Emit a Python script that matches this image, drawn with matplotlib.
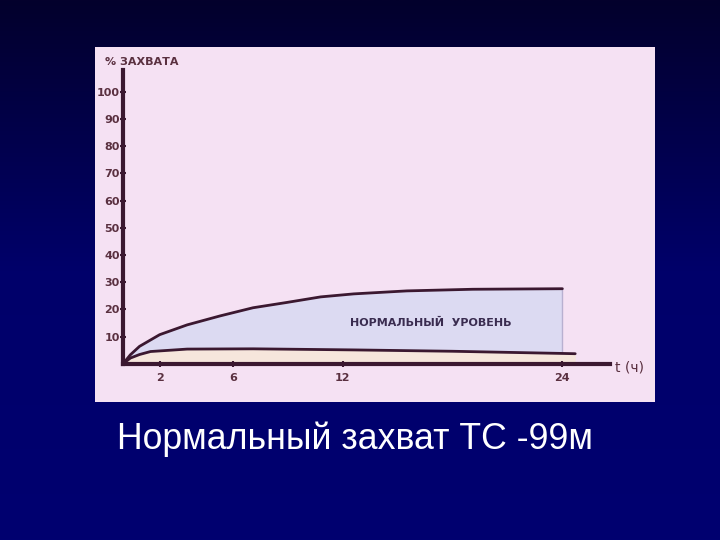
import matplotlib.pyplot as plt
import numpy as np
from matplotlib.colors import LinearSegmentedColormap

# hours and % uptake
hours = [0, 0.4, 0.9, 2.0, 3.5, 5.3, 7.1, 8.9, 10.8, 12.6, 15.5, 19.1, 24]
upper = [0, 3.3, 6.4, 10.7, 14.3, 17.6, 20.6, 22.5, 24.6, 25.7, 26.8, 27.4, 27.6]
lower_hours = [0, 0.4, 0.9, 1.5, 3.5, 7.1, 12.6, 18.0, 24, 24.7]
lower = [0, 2.1, 3.4, 4.5, 5.4, 5.5, 5.1, 4.6, 3.8, 3.7]

y_ticks = [10, 20, 30, 40, 50, 60, 70, 80, 90, 100]
x_ticks = [2, 6, 12, 24]

ink = "#3b1830"
label_ink = "#5a3040"

fig = plt.figure(figsize=(7.2, 5.4), dpi=100)

# slide background: vertical navy gradient
bg = fig.add_axes([0, 0, 1, 1])
grad = np.linspace(0, 1, 256).reshape(-1, 1)
cmap = LinearSegmentedColormap.from_list("slide", ["#03002c", "#00006a", "#000070"])
bg.imshow(grad, aspect="auto", cmap=cmap, extent=[0, 1, 0, 1], origin="upper")
bg.set_axis_off()

ax = fig.add_axes([0.132, 0.256, 0.778, 0.657])
ax.set_facecolor("#f5e1f3")
ax.set_xlim(-1.53, 29.07)
ax.set_ylim(-13.97, 116.5)

# band between the curves, then the beige strip under the lower curve
lh = [h for h in lower_hours if h <= hours[-1]]
lv = lower[: len(lh)]
ax.fill(hours + lh[::-1], upper + lv[::-1], color="#dcdaf2", lw=0, zorder=1)
ax.fill_between(lower_hours, 0, lower, color="#f6e6dc", lw=0, zorder=1)

ax.plot(hours, upper, color=ink, lw=2, zorder=3, solid_capstyle="round")
ax.plot([hours[-1], hours[-1]], [lv[-1], upper[-1]], color="#b8b0d0", lw=1, zorder=2)
ax.plot(lower_hours, lower, color=ink, lw=2, zorder=3, solid_capstyle="round")

for s in ["top", "right"]:
    ax.spines[s].set_visible(False)
ax.spines["left"].set_position(("data", 0))
ax.spines["bottom"].set_position(("data", 0))
ax.spines["left"].set_bounds(0, 108)
ax.spines["bottom"].set_bounds(0, 26.6)
for s in ["left", "bottom"]:
    ax.spines[s].set_color(ink)
    ax.spines[s].set_linewidth(3)
    ax.spines[s].set_zorder(4)

ax.set_yticks(y_ticks)
ax.set_yticklabels([str(v) for v in y_ticks])
ax.set_xticks(x_ticks)
ax.set_xticklabels([str(v) for v in x_ticks])
ax.tick_params(axis="y", direction="inout", length=5, width=1.5, color=ink,
               labelcolor=label_ink, labelsize=8, pad=0)
ax.tick_params(axis="x", direction="inout", length=5, width=1.5, color=ink,
               labelcolor=label_ink, labelsize=8, pad=4)
for lab in ax.get_xticklabels() + ax.get_yticklabels():
    lab.set_fontweight("bold")

ax.text(-1.0, 111, "% ЗАХВАТА", fontsize=8, fontweight="bold", color=label_ink,
        ha="left", va="center")
ax.text(26.9, -1.5, "t (ч)", fontsize=10, color=label_ink, ha="left", va="center")
ax.text(16.8, 15, "НОРМАЛЬНЫЙ  УРОВЕНЬ", fontsize=8, fontweight="bold",
        color="#3a2c50", ha="center", va="center", zorder=5)

fig.text(0.493, 0.186, "Нормальный захват ТС -99м", color="white", fontsize=25.7,
         family=["Liberation Sans", "DejaVu Sans"], ha="center", va="center")

fig.savefig("out.png", dpi=100)
